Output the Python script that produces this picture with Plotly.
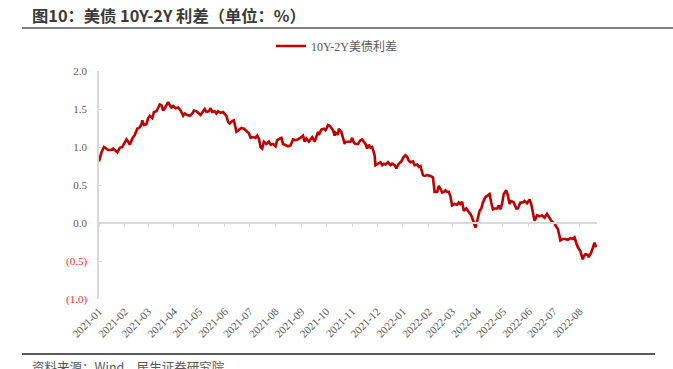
import plotly.graph_objects as go

dates = [
    "2021-01-01", "2021-01-04", "2021-01-07", "2021-01-10", "2021-01-12", "2021-01-15", "2021-01-18", "2021-01-20",
    "2021-01-23", "2021-01-26", "2021-01-29", "2021-01-31", "2021-02-03", "2021-02-05", "2021-02-07", "2021-02-10",
    "2021-02-13", "2021-02-16", "2021-02-19", "2021-02-21", "2021-02-22", "2021-02-24", "2021-02-27", "2021-03-01",
    "2021-03-03", "2021-03-06", "2021-03-08", "2021-03-11", "2021-03-13", "2021-03-15", "2021-03-17", "2021-03-19",
    "2021-03-21", "2021-03-23", "2021-03-25", "2021-03-27", "2021-03-29", "2021-03-31", "2021-04-03", "2021-04-06",
    "2021-04-09", "2021-04-12", "2021-04-14", "2021-04-17", "2021-04-20", "2021-04-23", "2021-04-25", "2021-04-28",
    "2021-05-01", "2021-05-03", "2021-05-06", "2021-05-08", "2021-05-10", "2021-05-13", "2021-05-15", "2021-05-17",
    "2021-05-20", "2021-05-22", "2021-05-24", "2021-05-27", "2021-05-30", "2021-06-01", "2021-06-03", "2021-06-05",
    "2021-06-07", "2021-06-10", "2021-06-12", "2021-06-15", "2021-06-17", "2021-06-21", "2021-06-24", "2021-06-27",
    "2021-06-30", "2021-07-02", "2021-07-05", "2021-07-08", "2021-07-10", "2021-07-12", "2021-07-14", "2021-07-16",
    "2021-07-18", "2021-07-21", "2021-07-24", "2021-07-26", "2021-07-29", "2021-08-01", "2021-08-03", "2021-08-06",
    "2021-08-08", "2021-08-10", "2021-08-13", "2021-08-16", "2021-08-19", "2021-08-22", "2021-08-25", "2021-08-28",
    "2021-09-01", "2021-09-03", "2021-09-05", "2021-09-07", "2021-09-10", "2021-09-13", "2021-09-14", "2021-09-17",
    "2021-09-19", "2021-09-21", "2021-09-22", "2021-09-25", "2021-09-28", "2021-09-30", "2021-10-02", "2021-10-03",
    "2021-10-05", "2021-10-07", "2021-10-09", "2021-10-11", "2021-10-12", "2021-10-15", "2021-10-16", "2021-10-19",
    "2021-10-20", "2021-10-23", "2021-10-24", "2021-10-27", "2021-10-30", "2021-11-01", "2021-11-03", "2021-11-05",
    "2021-11-08", "2021-11-11", "2021-11-13", "2021-11-15", "2021-11-17", "2021-11-19", "2021-11-21", "2021-11-23",
    "2021-11-25", "2021-11-28", "2021-11-29", "2021-12-02", "2021-12-05", "2021-12-07", "2021-12-09", "2021-12-11",
    "2021-12-14", "2021-12-17", "2021-12-19", "2021-12-22", "2021-12-24", "2021-12-27", "2021-12-30", "2022-01-02",
    "2022-01-04", "2022-01-06", "2022-01-08", "2022-01-10", "2022-01-13", "2022-01-15", "2022-01-18", "2022-01-20",
    "2022-01-22", "2022-01-25", "2022-01-27", "2022-01-30", "2022-02-03", "2022-02-06", "2022-02-08", "2022-02-11",
    "2022-02-13", "2022-02-15", "2022-02-17", "2022-02-19", "2022-02-21", "2022-02-23", "2022-02-25", "2022-02-27",
    "2022-03-01", "2022-03-04", "2022-03-07", "2022-03-09", "2022-03-11", "2022-03-13", "2022-03-15", "2022-03-18",
    "2022-03-21", "2022-03-24", "2022-03-27", "2022-03-29", "2022-03-31", "2022-04-03", "2022-04-05", "2022-04-07",
    "2022-04-10", "2022-04-13", "2022-04-15", "2022-04-17", "2022-04-19", "2022-04-21", "2022-04-24", "2022-04-26",
    "2022-04-28", "2022-04-30", "2022-05-02", "2022-05-05", "2022-05-07", "2022-05-09", "2022-05-11", "2022-05-14",
    "2022-05-17", "2022-05-19", "2022-05-22", "2022-05-25", "2022-05-27", "2022-05-30", "2022-06-02", "2022-06-04",
    "2022-06-06", "2022-06-08", "2022-06-11", "2022-06-14", "2022-06-17", "2022-06-20", "2022-06-23", "2022-06-26",
    "2022-06-28", "2022-07-02", "2022-07-04", "2022-07-06", "2022-07-08", "2022-07-09", "2022-07-12", "2022-07-15",
    "2022-07-18", "2022-07-21", "2022-07-24", "2022-07-26", "2022-07-28", "2022-07-30", "2022-08-02", "2022-08-05",
    "2022-08-06", "2022-08-08", "2022-08-11", "2022-08-12", "2022-08-15", "2022-08-18", "2022-08-19", "2022-08-21",
]

spread = [
    0.81, 0.93, 1.00, 0.98, 0.96, 0.96, 0.98, 0.96,
    0.93, 0.99, 1.00, 1.04, 1.10, 1.07, 1.03, 1.11,
    1.16, 1.24, 1.26, 1.30, 1.35, 1.29, 1.30, 1.38,
    1.41, 1.38, 1.46, 1.47, 1.51, 1.56, 1.55, 1.48,
    1.51, 1.55, 1.59, 1.55, 1.52, 1.54, 1.51, 1.52,
    1.48, 1.41, 1.44, 1.42, 1.41, 1.44, 1.48, 1.47,
    1.44, 1.42, 1.47, 1.50, 1.46, 1.47, 1.51, 1.46,
    1.47, 1.44, 1.47, 1.45, 1.46, 1.44, 1.41, 1.33,
    1.31, 1.34, 1.35, 1.20, 1.22, 1.25, 1.24, 1.21,
    1.18, 1.12, 1.13, 1.12, 1.15, 1.11, 1.00, 0.98,
    1.07, 1.04, 1.07, 1.03, 1.04, 1.01, 1.09, 1.11,
    1.12, 1.04, 1.03, 1.01, 1.02, 1.10, 1.09, 1.10,
    1.13, 1.15, 1.07, 1.11, 1.07, 1.12, 1.13, 1.07,
    1.15, 1.20, 1.16, 1.23, 1.24, 1.22, 1.26, 1.29,
    1.28, 1.24, 1.22, 1.15, 1.19, 1.16, 1.24, 1.20,
    1.15, 1.04, 1.07, 1.07, 1.07, 1.12, 1.06, 1.04,
    1.04, 1.09, 1.10, 1.07, 1.04, 0.98, 1.03, 0.99,
    1.00, 0.89, 0.76, 0.78, 0.80, 0.76, 0.78, 0.77,
    0.80, 0.76, 0.78, 0.76, 0.72, 0.78, 0.81, 0.87,
    0.89, 0.87, 0.82, 0.80, 0.81, 0.76, 0.77, 0.74,
    0.75, 0.63, 0.62, 0.63, 0.62, 0.60, 0.41, 0.41,
    0.49, 0.45, 0.40, 0.41, 0.43, 0.41, 0.41, 0.35,
    0.23, 0.25, 0.24, 0.27, 0.25, 0.28, 0.16, 0.19,
    0.14, 0.10, 0.01, -0.06, 0.02, 0.16, 0.19, 0.27,
    0.34, 0.37, 0.38, 0.27, 0.18, 0.19, 0.19, 0.23,
    0.18, 0.25, 0.38, 0.43, 0.36, 0.25, 0.29, 0.27,
    0.19, 0.19, 0.27, 0.27, 0.29, 0.26, 0.31, 0.25,
    0.16, 0.03, 0.10, 0.09, 0.10, 0.07, 0.12, 0.06,
    0.03, -0.01, -0.04, -0.08, -0.17, -0.23, -0.21, -0.21,
    -0.22, -0.20, -0.21, -0.19, -0.26, -0.32, -0.37, -0.48,
    -0.44, -0.41, -0.42, -0.45, -0.39, -0.28, -0.26, -0.32,
]

series_name = "10Y-2Y美债利差"
title_text = "图10：美债 10Y-2Y 利差（单位：%）"
source_text = "资料来源：Wind，民生证券研究院"
y_tickvals = [-1.0, -0.5, 0.0, 0.5, 1.0, 1.5, 2.0]
y_ticklabels = ["(1.0)", "(0.5)", "0.0", "0.5", "1.0", "1.5", "2.0"]
x_range = ["2021-01-01", "2022-08-22"]

W, H = 673, 369
ML, MR, MT, MB = 99, 76, 71, 70
PW, PH = W - ML - MR, H - MT - MB


def px_x(px):
    return (px - ML) / PW


def px_y(py):
    return (H - MB - py) / PH


ticktext = [
    f"<span style='color:#FF2A2A'>{t}</span>" if v < 0 else t
    for v, t in zip(y_tickvals, y_ticklabels)
]

serif = "Liberation Serif, Times New Roman, Noto Sans CJK SC, serif"
axis_grey = "#D9D9D9"
label_grey = "#595959"

fig = go.Figure()
fig.add_trace(go.Scatter(
    x=dates, y=spread, mode="lines", name=series_name,
    line=dict(color="#C00000", width=2.6),
))
# invisible helper trace to carry the zero-level date axis with month ticks
fig.add_trace(go.Scatter(
    x=dates, y=spread, mode="lines", xaxis="x2", showlegend=False,
    line=dict(color="rgba(0,0,0,0)", width=0), hoverinfo="skip",
))

fig.update_layout(
    width=W, height=H,
    margin=dict(l=ML, r=MR, t=MT, b=MB, autoexpand=False),
    paper_bgcolor="white", plot_bgcolor="white",
    showlegend=True,
    legend=dict(
        orientation="h", x=px_x(271), y=px_y(46), xanchor="left", yanchor="middle",
        font=dict(family=serif, size=12, color=label_grey),
        bgcolor="rgba(0,0,0,0)",
    ),
    xaxis=dict(
        type="date", range=x_range, tick0="2021-01-01", dtick="M1",
        tickformat="%Y-%m", tickangle=-45,
        showline=False, showgrid=False, zeroline=False, ticks="",
        tickfont=dict(family=serif, size=11, color=label_grey),
        ticklabelstandoff=3,
    ),
    xaxis2=dict(
        type="date", range=x_range, tick0="2021-01-01", dtick="M1",
        overlaying="x", anchor="free", position=1 / 3, side="bottom",
        showline=True, linecolor=axis_grey, linewidth=1.5,
        ticks="outside", ticklen=3, tickwidth=1.2, tickcolor=axis_grey,
        showticklabels=False, showgrid=False, zeroline=False,
    ),
    yaxis=dict(
        range=[-1, 2], tickvals=y_tickvals, ticktext=ticktext,
        showline=True, linecolor=axis_grey, linewidth=1.5,
        ticks="inside", ticklen=3, tickwidth=1.2, tickcolor=axis_grey,
        showgrid=False, zeroline=False,
        tickfont=dict(family=serif, size=11, color=label_grey),
        ticklabelstandoff=8,
    ),
    font=dict(family="Noto Sans CJK SC"),
)

fig.add_annotation(
    text=f"<b>{title_text}</b>", xref="paper", yref="paper",
    x=px_x(30), y=px_y(15), xanchor="left", yanchor="middle",
    showarrow=False, font=dict(family="Noto Sans CJK SC", size=16.3, color="#3A3A3A"),
)
fig.add_annotation(
    text=source_text, xref="paper", yref="paper",
    x=px_x(30), y=px_y(355), xanchor="left", yanchor="top",
    showarrow=False, font=dict(family="Noto Sans CJK SC", size=12.5, color="#595959"),
)
fig.add_shape(type="line", xref="paper", yref="paper",
              x0=px_x(22), x1=px_x(673), y0=px_y(28), y1=px_y(28),
              line=dict(color="#595959", width=1.5))
fig.add_shape(type="line", xref="paper", yref="paper",
              x0=px_x(22), x1=px_x(655), y0=px_y(354), y1=px_y(354),
              line=dict(color="#595959", width=2))

fig.write_html(
    "out.html",
    config={"displayModeBar": False},
    post_script="document.body.style.margin='0px';document.body.style.overflow='hidden';",
)
